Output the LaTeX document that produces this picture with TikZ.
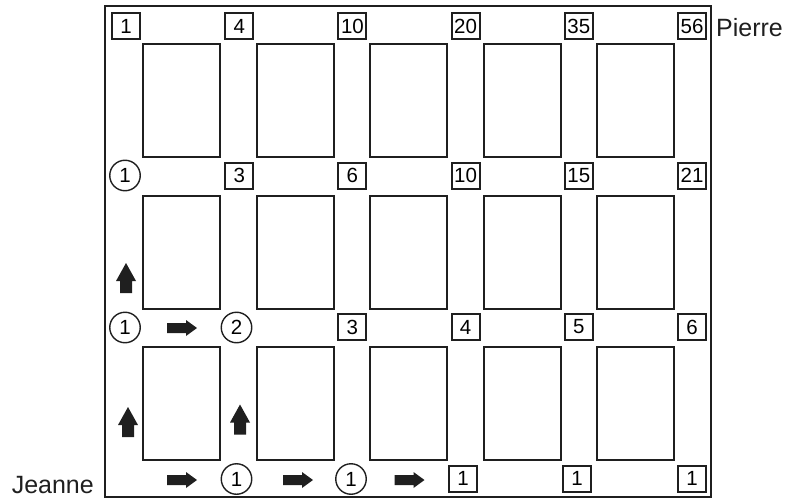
\documentclass[tikz,border=0pt]{standalone}
\usepackage{fontspec}
\setmainfont{Liberation Sans}
\begin{document}
\begin{tikzpicture}[x=1pt,y=-1pt,
  ink/.style={draw=black!88},
  frame/.style={ink,line width=2.2pt},
  block/.style={ink,line width=2pt},
  numbox/.style={ink,line width=2pt,minimum width=28pt,minimum height=26pt,inner sep=1pt,font=\fontsize{20.5}{21}\selectfont},
  numcirc/.style={ink,line width=1.4pt,circle,minimum size=30.5pt,inner sep=0pt,font=\fontsize{20.5}{21}\selectfont},
  persname/.style={inner sep=0pt,font=\fontsize{25}{26}\selectfont,text=black!88},
  rarrow/.pic={\fill[black!88] (-15,-5) -- (4,-5) -- (4,-8) -- (15,0) -- (4,8) -- (4,5) -- (-15,5) -- cycle;},
  uarrow/.pic={\fill[black!88] (-6,15) -- (-6,3) -- (-10,3) -- (0,-15) -- (10,3) -- (6,3) -- (6,15) -- cycle;}
]
\useasboundingbox (0,0) rectangle (787,500);
\draw[frame] (105,6) rectangle (711,497);
% blocks
\foreach \r in {0,1,2}{
  \foreach \j in {0,...,4}{
    \draw[block] ({143+113.5*\j},{44+151.5*\r}) rectangle ++(77,113);
  }
}
% row 0
\foreach \v [count=\i from 0] in {1,4,10,20,35,56}{
  \node[numbox,draw] (t\i) at ({126+113.2*\i},26) {\v};
}
% row 1
\node[numcirc,draw] (m0) at (125,175.5) {1};
\foreach \v [count=\i from 1] in {3,6,10,15,21}{
  \node[numbox,draw] (m\i) at ({126+113.2*\i},175.5) {\v};
}
% row 2
\node[numcirc,draw] (n0) at (125,327.5) {1};
\node[numcirc,draw] (n1) at (236.5,327.5) {2};
\foreach \v [count=\i from 2] in {3,4,5,6}{
  \node[numbox,draw] (n\i) at ({126+113.2*\i},327) {\v};
}
% row 3
\node[numcirc,draw] (b1) at (236.5,479) {1};
\node[numcirc,draw] (b2) at (351,479) {1};
\node[numbox,draw] (b3) at (463,478.5) {1};
\node[numbox,draw] (b4) at (577,478.5) {1};
\node[numbox,draw] (b5) at (692,478.5) {1};
% arrows
\pic at (182,328) {rarrow};
\pic at (182,480) {rarrow};
\pic at (298,480) {rarrow};
\pic at (409.5,480) {rarrow};
\pic at (128,422) {uarrow};
\pic at (240,419.5) {uarrow};
\pic at (126,278) {uarrow};
% names
\node[persname,anchor=base west] (pierre) at (716,37) {Pierre};
\node[persname,anchor=base east] (jeanne) at (94,493) {Jeanne};
\end{tikzpicture}
\end{document}
